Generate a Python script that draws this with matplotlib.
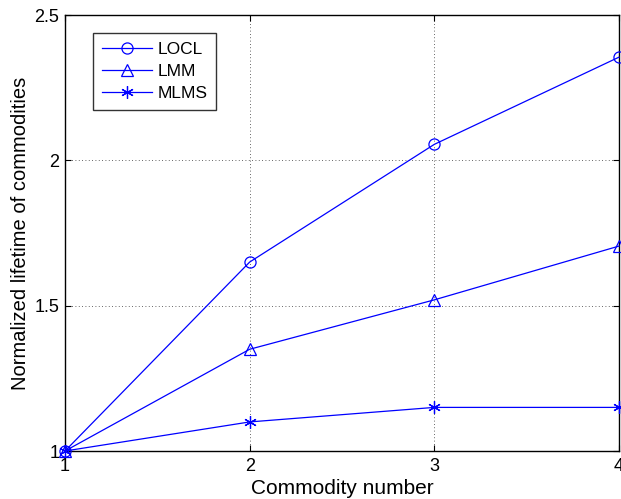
import matplotlib
matplotlib.use("Agg")
import matplotlib.pyplot as plt

plt.rcParams['font.family'] = ['Liberation Sans', 'DejaVu Sans']

x = [1, 2, 3, 4]
locl = [1.0, 1.65, 2.055, 2.355]
lmm = [1.0, 1.35, 1.52, 1.705]
mlms = [1.0, 1.10, 1.15, 1.15]
labels = ['LOCL', 'LMM', 'MLMS']
xticks = [1, 2, 3, 4]
yticks = [1, 1.5, 2, 2.5]
yticklabels = ['1', '1.5', '2', '2.5']

fig = plt.figure(figsize=(6.21, 4.99), dpi=100)
ax = fig.add_axes([65/621, 48/499, 554/621, 436/499])

color = '#0000ff'
ax.plot(x, locl, color=color, lw=0.9, marker='o', ms=8, mfc='none', mew=0.9, label=labels[0], clip_on=False, zorder=3)
ax.plot(x, lmm, color=color, lw=0.9, marker='^', ms=8, mfc='none', mew=0.9, label=labels[1], clip_on=False, zorder=3)
ax.plot(x, mlms, color=color, lw=0.9, marker=(6, 2, 0), ms=9, mfc='none', mew=0.9, label=labels[2], clip_on=False, zorder=3)

ax.set_xlim(1, 4)
ax.set_ylim(1, 2.5)
ax.set_xticks(xticks)
ax.set_xticklabels([str(v) for v in xticks])
ax.set_yticks(yticks)
ax.set_yticklabels(yticklabels)
ax.tick_params(direction='in', length=4, width=0.8, labelsize=13, pad=5, top=True, right=True)
ax.tick_params(axis='y', pad=4)
ax.grid(True, linestyle=(0, (1, 3)), color='black', linewidth=0.6, alpha=0.8)
for s in ax.spines.values():
    s.set_linewidth(1.0)

ax.set_xlabel('Commodity number', fontsize=15, labelpad=3)
ax.set_ylabel('Normalized lifetime of commodities', fontsize=14.5, labelpad=3)

leg = ax.legend(loc='upper left', bbox_to_anchor=(28/554, 1 - 18/436), fontsize=12.5,
                frameon=True, fancybox=False, edgecolor='black', borderpad=0.5,
                handlelength=2.9, handletextpad=0.3, labelspacing=0.4, borderaxespad=0)
leg.get_frame().set_linewidth(1.0)

fig.savefig('out.png', dpi=100)
